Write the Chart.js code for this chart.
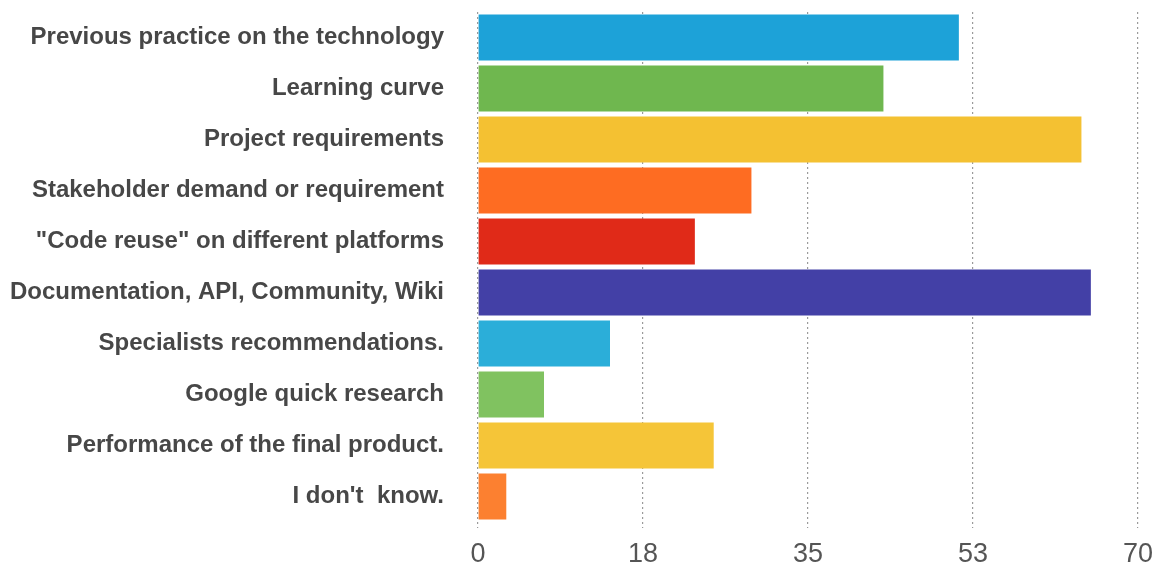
<!DOCTYPE html>
<html>
<head>
<meta charset="utf-8">
<script src="https://cdn.jsdelivr.net/npm/chart.js@4/dist/chart.umd.min.js"></script>
<style>
  html, body { margin: 0; padding: 0; background: #fff; }
  #wrap { width: 1160px; height: 568px; }
</style>
</head>
<body>
<div id="wrap"><canvas id="c" width="1160" height="568"></canvas></div>
<script>
// Reasons for choosing a technology (number of responses)
const categories = [
  'Previous practice on the technology',
  'Learning curve',
  'Project requirements',
  'Stakeholder demand or requirement',
  '"Code reuse" on different platforms',
  'Documentation, API, Community, Wiki',
  'Specialists recommendations.',
  'Google quick research',
  'Performance of the final product.',
  "I don't  know."
];
const responses = [51, 43, 64, 29, 23, 65, 14, 7, 25, 3];
const barColors = [
  '#1DA2D8', '#6FB74F', '#F4C132', '#FE6C22', '#E02A18',
  '#4340A6', '#2BAED9', '#80C260', '#F5C538', '#FC8030'
];
const tickValues = [0, 17.5, 35, 52.5, 70];
const tickLabels = ['0', '18', '35', '53', '70'];

new Chart(document.getElementById('c'), {
  type: 'bar',
  data: {
    labels: categories,
    datasets: [{
      data: responses,
      backgroundColor: barColors,
      borderWidth: 0,
      barPercentage: 0.95,
      categoryPercentage: 0.95
    }]
  },
  options: {
    indexAxis: 'y',
    responsive: false,
    animation: false,
    layout: { padding: { top: 12, right: 22, left: 0, bottom: 0 } },
    plugins: { legend: { display: false }, tooltip: { enabled: false } },
    scales: {
      x: {
        min: 0,
        max: 70,
        afterBuildTicks: (scale) => { scale.ticks = tickValues.map(v => ({ value: v })); },
        afterFit: (scale) => { scale.height = 46; scale.paddingLeft = 0; scale.paddingRight = 0; },
        border: { display: false, dash: [2, 3] },
        grid: {
          color: '#9a9a9a',
          lineWidth: 1.2,
          tickLength: 6,
          tickBorderDash: [2, 3],
          tickColor: '#9a9a9a'
        },
        ticks: {
          padding: 10,
          color: '#555',
          maxRotation: 0,
          font: { family: '"Liberation Sans", Arial, sans-serif', size: 27 },
          callback: (v, i) => tickLabels[i]
        }
      },
      y: {
        afterFit: (scale) => { scale.width = 478; scale.paddingTop = 0; scale.paddingBottom = 0; },
        border: { display: false },
        grid: { display: false, drawTicks: false },
        ticks: {
          padding: 34,
          color: '#474747',
          font: { family: '"Liberation Sans", Arial, sans-serif', size: 24, weight: 'bold' }
        }
      }
    }
  }
});
</script>
</body>
</html>
